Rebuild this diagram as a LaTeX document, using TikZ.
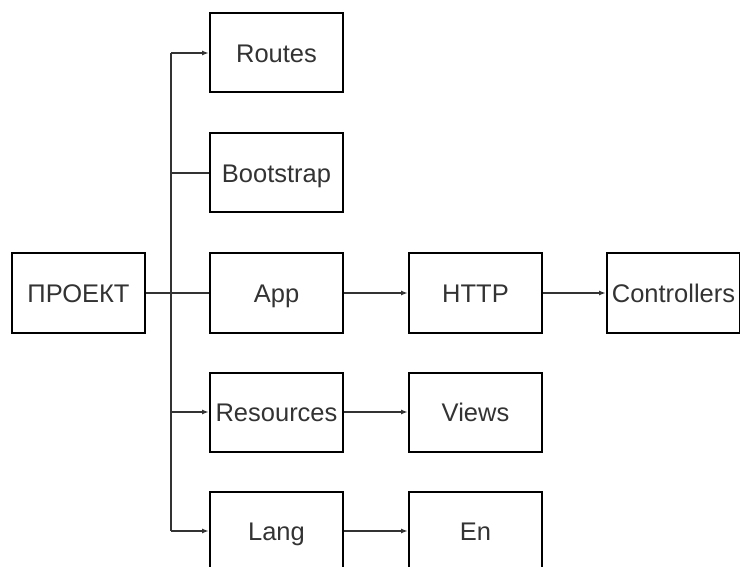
\documentclass[tikz,border=0pt]{standalone}
\usepackage{fontspec}
\setmainfont{Liberation Sans}
\usepackage{tikz}
\usetikzlibrary{arrows.meta}
\definecolor{Ink}{HTML}{333333}

\begin{document}
\begin{tikzpicture}[x=1pt,y=-1pt,
    box/.style={draw=black,line width=2pt,minimum width=133pt,minimum height=79pt,
      inner sep=0pt,text=Ink,text height=18.5pt,text depth=0pt,
      font=\fontsize{25.5}{30}\selectfont},
    link/.style={draw=Ink,line width=1.8pt},
    arr/.style={link,-{Latex[length=7pt,width=5pt]}}]
    \useasboundingbox (0,0) rectangle (740,567);

    % first column
    \node[box] (proekt) at (78.5,293) {ПРОЕКТ};

    % second column
    \node[box] (routes) at (276.5,53) {Routes};
    \node[box] (bootstrap) at (276.5,173) {Bootstrap};
    \node[box] (app) at (276.5,293) {App};
    \node[box] (resources) at (276.5,412) {Resources};
    \node[box] (lang) at (276.5,531) {Lang};

    % third and fourth column
    \node[box] (http) at (475.5,293) {HTTP};
    \node[box] (controllers) at (673.5,293) {Controllers};
    \node[box] (views) at (475.5,412) {Views};
    \node[box] (en) at (475.5,531) {En};

    % trunk
    \coordinate (top) at (171,53);
    \coordinate (bottom) at (171,531);
    \draw[link] (top) -- (bottom);
    \draw[link] (proekt.east) -- (app.west);
    \draw[arr] (top) -- (routes.west);
    \draw[link] (171,173) -- (bootstrap.west);
    \draw[arr] (171,412) -- (resources.west);
    \draw[arr] (bottom) -- (lang.west);

    \draw[arr] (app.east) -- (http.west);
    \draw[arr] (http.east) -- (controllers.west);
    \draw[arr] (resources.east) -- (views.west);
    \draw[arr] (lang.east) -- (en.west);
\end{tikzpicture}
\end{document}
